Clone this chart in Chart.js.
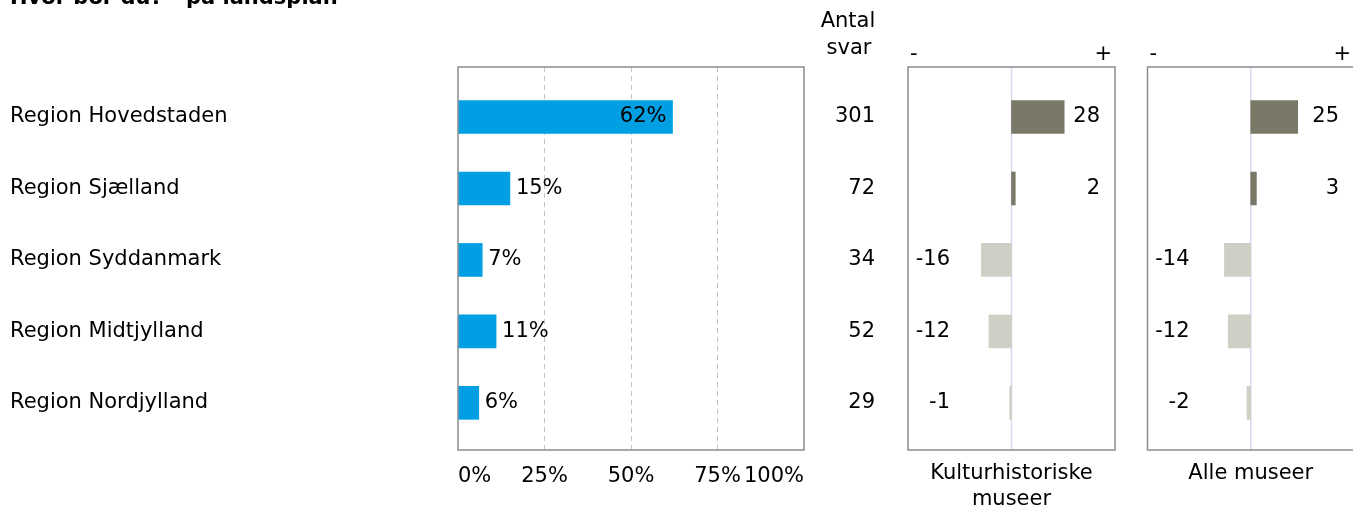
<!DOCTYPE html>
<html><head><meta charset="utf-8">
<script src="https://cdn.jsdelivr.net/npm/chart.js@4"></script>
<style>
html,body{margin:0;padding:0;background:#fff;overflow:hidden;width:1353px;height:509px;position:relative;}
canvas{position:absolute;top:0;}
</style></head><body>
<canvas id="c1" width="900" height="509" style="left:0px"></canvas>
<canvas id="c2" width="240" height="509" style="left:890px"></canvas>
<canvas id="c3" width="260" height="509" style="left:1130px"></canvas>
<script>
const title = 'Hvor bor du? - på landsplan';
const categories = ['Region Hovedstaden','Region Sjælland','Region Syddanmark','Region Midtjylland','Region Nordjylland'];
const shares = [62, 15, 7, 11, 6];
const answers = [301, 72, 34, 52, 29];
const kulturDiff = [28, 2, -16, -12, -1];
const alleDiff = [25, 3, -14, -12, -2];
const shareTicks = [0, 25, 50, 75, 100];
const answersHeader = ['Antal', 'svar'];
const kulturTitle = ['Kulturhistoriske', 'museer'];
const alleTitle = ['Alle museer'];

const FONT = '"DejaVu Sans", Verdana, sans-serif';
Chart.defaults.font.family = FONT;
Chart.defaults.font.size = 21;
Chart.defaults.color = '#000';

const BLUE = '#009fe3', POS = '#7a7866', NEG = '#d0cfc6', BOX = '#8c8c8c';
const yScaleOpts = () => ({ type:'linear', display:false, offset:false, grid:{offset:false}, min:-0.7, max:4.66, reverse:true });

const panel1Plugin = {
  id:'panel1',
  afterDraw(chart){
    const {ctx, chartArea:a, scales:{y}} = chart;
    ctx.save();
    ctx.strokeStyle = BOX; ctx.lineWidth = 1.5;
    ctx.strokeRect(a.left, a.top, a.right-a.left, a.bottom-a.top);
    ctx.fillStyle = '#000';
    ctx.font = '21px ' + FONT;
    ctx.textBaseline = 'middle';
    categories.forEach((c,i)=>{
      const py = y.getPixelForValue(i);
      ctx.textAlign = 'left'; ctx.fillText(c, 10, py);
      ctx.textAlign = 'right'; ctx.fillText(String(answers[i]), 875, py);
    });
    ctx.textAlign = 'center';
    ctx.fillText(answersHeader[0], 848, 21.5);
    ctx.fillText(answersHeader[1], 849, 48.5);
    const meta = chart.getDatasetMeta(0);
    meta.data.forEach((bar,i)=>{
      const v = shares[i], t = v + '%';
      if (v >= 50) { ctx.textAlign='right'; ctx.fillText(t, bar.x-6, bar.y); }
      else { ctx.textAlign='left'; ctx.fillText(t, bar.x+6, bar.y); }
    });
    ctx.font = 'bold 21px ' + FONT;
    ctx.textAlign = 'left'; ctx.textBaseline = 'alphabetic';
    ctx.fillText(title, 10, 4);
    ctx.restore();
  }
};

new Chart(document.getElementById('c1'), {
  type:'bar',
  data:{ datasets:[{ data: shares.map((v,i)=>({x:v, y:i})), backgroundColor:BLUE, barThickness:33 }] },
  options:{
    indexAxis:'y', responsive:false, animation:false, devicePixelRatio:1,
    layout:{ padding:{ left:458, right:96, top:67, bottom:0 } },
    plugins:{ legend:{display:false}, tooltip:{enabled:false} },
    scales:{
      y: yScaleOpts(),
      x: { type:'linear', min:0, max:100,
        afterBuildTicks(s){ s.ticks = shareTicks.map(v=>({value:v})); },
        afterFit(s){ s.height = 59; },
        ticks:{ callback:v=>v+'%', align:'inner', padding:14, color:'#000', font:{size:21} },
        grid:{ drawTicks:false, lineWidth:1, color:c=>(c.tick && (c.tick.value===0||c.tick.value===100)) ? 'rgba(0,0,0,0)' : '#c4c4c4' },
        border:{ display:false, dash:[5,4] }
      }
    }
  },
  plugins:[panel1Plugin]
});

function diffPlugin(values, titleLines){
  return {
    id:'diff',
    beforeDatasetsDraw(chart){
      const {ctx, chartArea:a, scales:{x}} = chart;
      const zx = x.getPixelForValue(0);
      ctx.save(); ctx.strokeStyle = '#d8d8ef'; ctx.lineWidth = 1.5;
      ctx.beginPath(); ctx.moveTo(zx, a.top); ctx.lineTo(zx, a.bottom); ctx.stroke();
      ctx.restore();
    },
    afterDraw(chart){
      const {ctx, chartArea:a, scales:{y}} = chart;
      ctx.save();
      ctx.strokeStyle = BOX; ctx.lineWidth = 1.5;
      ctx.strokeRect(a.left, a.top, a.right-a.left, a.bottom-a.top);
      ctx.fillStyle = '#000'; ctx.font = '21px ' + FONT; ctx.textBaseline = 'middle';
      values.forEach((v,i)=>{
        const py = y.getPixelForValue(i);
        ctx.textAlign = 'right';
        if (v >= 0) ctx.fillText(String(v), a.right-15, py);
        else ctx.fillText(String(v), a.left+42, py);
      });
      ctx.textAlign = 'left'; ctx.fillText('-', a.left+2, 55);
      ctx.textAlign = 'right'; ctx.fillText('+', a.right-3, 55);
      ctx.textAlign = 'center';
      const cx = (a.left+a.right)/2;
      titleLines.forEach((t,i)=> ctx.fillText(t, cx, 474 + i*26));
      ctx.restore();
    }
  };
}

function diffChart(id, values, titleLines, padL, padR){
  new Chart(document.getElementById(id), {
    type:'bar',
    data:{ datasets:[{ data: values.map((v,i)=>({x:v, y:i})), backgroundColor: values.map(v=> v>=0 ? POS : NEG), barThickness:33 }] },
    options:{
      indexAxis:'y', responsive:false, animation:false, devicePixelRatio:1,
      layout:{ padding:{ left:padL, right:padR, top:67, bottom:59 } },
      plugins:{ legend:{display:false}, tooltip:{enabled:false} },
      scales:{ y: yScaleOpts(), x:{ type:'linear', display:false, min:-55, max:55 } }
    },
    plugins:[diffPlugin(values, titleLines)]
  });
}
diffChart('c2', kulturDiff, kulturTitle, 18, 15);
diffChart('c3', alleDiff, alleTitle, 17.5, 36);
</script>
</body></html>
